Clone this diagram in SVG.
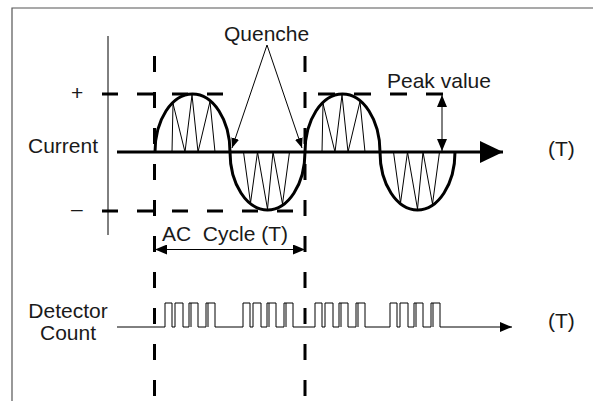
<svg xmlns="http://www.w3.org/2000/svg" width="593" height="401" viewBox="0 0 593 401">
<style>
text{font-family:"Liberation Sans",Arial,sans-serif;font-size:21px;fill:#1a1a1a}
.thin{fill:none;stroke:#000;stroke-width:1}
.thick{fill:none;stroke:#000;stroke-width:3}
.dash{fill:none;stroke:#000;stroke-width:3;stroke-dasharray:16 19}
.vdash{fill:none;stroke:#000;stroke-width:3;stroke-dasharray:16 20}
</style>
<defs>
<marker id="ah" markerUnits="userSpaceOnUse" markerWidth="12" markerHeight="10" refX="12" refY="5" orient="auto-start-reverse"><path d="M0,0 L12,5 L0,10 z" fill="#000"/></marker>
<marker id="ahs" markerUnits="userSpaceOnUse" markerWidth="10" markerHeight="8" refX="10" refY="4" orient="auto"><path d="M0,0 L10,4 L0,8 z" fill="#000"/></marker>
<marker id="big" markerUnits="userSpaceOnUse" markerWidth="24" markerHeight="22" refX="23" refY="11" orient="auto"><path d="M0,0 L23,11 L0,22 z" fill="#000"/></marker>
</defs>
<g id="frame"><path d="M12,401 V8 H593" fill="none" stroke="#555" stroke-width="1.2"/></g>
<g id="guides">
<path class="dash" d="M102,94 H223"/>
<path class="dash" d="M318,94 H445" style="stroke-dasharray:17 19"/>
<path class="dash" d="M102,211 H293"/>
<path class="vdash" d="M154.5,56 V396"/>
<path class="vdash" d="M305,56 V396"/>
</g>
<g id="current-axis">
<path class="thin" d="M108,36 V235"/>
<text x="28" y="153">Current</text>
<text x="71" y="100">+</text>
<text x="71" y="216">–</text>
</g>
<g id="time-axis">
<path class="thick" d="M117,152 H503" marker-end="url(#big)"/>
<text x="548" y="156">(T)</text>
</g>
<g id="wave">
<path class="thick" d="M155,152 A37.5,58 0 0 1 230,152 A37.5,58 0 0 0 305,152 A37.5,58 0 0 1 380,152 A37.5,58 0 0 0 455,152"/>
<path class="thin" d="M172,152 L173,103.5 L185,152 L192,95 L198,152 L210,101.5 L215,152"/>
<path class="thin" d="M243.5,152 L250.5,203 L257.5,152 L267.5,209 L273,152 L282.5,204 L289.5,152"/>
<path class="thin" d="M322,152 L323,103.5 L335,152 L342,95 L348,152 L360,101.5 L365,152"/>
<path class="thin" d="M393.5,152 L400.5,203 L407.5,152 L417.5,209 L423,152 L432.5,204 L439.5,152"/>
</g>
<g id="quenche">
<text x="224" y="41">Quenche</text>
<path class="thin" d="M267,45 L232,148" marker-end="url(#ahs)"/>
<path class="thin" d="M267,45 L302,148" marker-end="url(#ahs)"/>
</g>
<g id="peak">
<text x="387" y="88">Peak value</text>
<path class="thin" d="M442,95 V151" marker-start="url(#ah)" marker-end="url(#ah)"/>
</g>
<g id="ac-cycle">
<text x="162" y="241" xml:space="preserve" style="white-space:pre">AC  Cycle (T)</text>
<path class="thin" d="M155,249.5 H305" marker-start="url(#ah)" marker-end="url(#ah)"/>
</g>
<g id="detector">
<text x="68" y="318" text-anchor="middle">Detector</text>
<text x="68" y="340" text-anchor="middle">Count</text>
<path class="thin" d="M117,327 H165 V303 H172 V327 H175 V303 H183 V327 H189 V303 H198 V327 H206 V303 H215 V327 H243 V303 H250 V327 H253 V303 H261 V327 H267 V303 H276 V327 H284 V303 H293 V327 H315 V303 H322 V327 H325 V303 H333 V327 H339 V303 H348 V327 H356 V303 H365 V327 H390 V303 H397 V327 H400 V303 H408 V327 H414 V303 H423 V327 H431 V303 H440 V327 H512" marker-end="url(#ah)"/>
<path class="thin" d="M191,303 V327 M208,303 V327 M269,303 V327 M286,303 V327 M341,303 V327 M358,303 V327 M416,303 V327 M433,303 V327"/>
<text x="548" y="328">(T)</text>
</g>
</svg>
